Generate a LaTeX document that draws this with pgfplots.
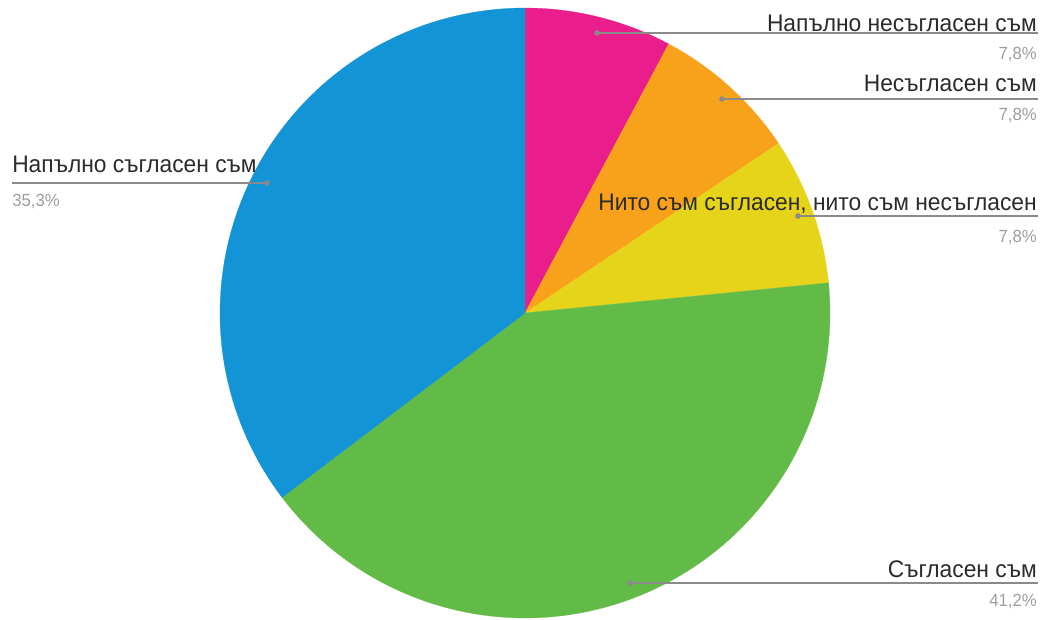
\documentclass[border=0pt]{standalone}
\usepackage{fontspec}
\setmainfont{Liberation Sans}[FakeStretch=0.95]
\usepackage{pgfplots}
\pgfplotsset{compat=1.18}
\definecolor{cA}{HTML}{E91E8C}
\definecolor{cB}{HTML}{F8A11B}
\definecolor{cC}{HTML}{E6D41A}
\definecolor{cD}{HTML}{63BB47}
\definecolor{cE}{HTML}{1394D6}
\definecolor{txt}{HTML}{2B2B2B}
\definecolor{pct}{HTML}{9E9E9E}
\definecolor{ldr}{HTML}{8A8A8A}
% values (percent), clockwise from the top
\def\vA{7.8}\def\vB{7.8}\def\vC{7.8}\def\vD{41.2}\def\vE{35.3}
\pgfmathsetmacro\tot{\vA+\vB+\vC+\vD+\vE}
\pgfmathsetmacro\aA{90}
\pgfmathsetmacro\aB{\aA-360*\vA/\tot}
\pgfmathsetmacro\aC{\aB-360*\vB/\tot}
\pgfmathsetmacro\aD{\aC-360*\vC/\tot}
\pgfmathsetmacro\aE{\aD-360*\vD/\tot}
\pgfmathsetmacro\aF{\aE-360*\vE/\tot}
\newcommand\lbl{\fontsize{18}{20}\selectfont\color{txt}}
\newcommand\pc{\fontsize{13.2}{14}\selectfont\color{pct}}
\begin{document}%
\begin{tikzpicture}
\begin{axis}[x=0.75pt,y=0.75pt,xmin=0,xmax=1046,ymin=0,ymax=619,
  axis lines=none,xtick=\empty,ytick=\empty,clip=false]
\coordinate (BL) at (axis cs:0,0);
\coordinate (TR) at (axis cs:1046,619);
\addplot[fill=cA,draw=cA,line width=0.2pt,domain=\aB:\aA,samples=60] ({525+305*cos(x)},{306+305*sin(x)}) -- (axis cs:525,306) -- cycle;
\addplot[fill=cB,draw=cB,line width=0.2pt,domain=\aC:\aB,samples=60] ({525+305*cos(x)},{306+305*sin(x)}) -- (axis cs:525,306) -- cycle;
\addplot[fill=cC,draw=cC,line width=0.2pt,domain=\aD:\aC,samples=60] ({525+305*cos(x)},{306+305*sin(x)}) -- (axis cs:525,306) -- cycle;
\addplot[fill=cD,draw=cD,line width=0.2pt,domain=\aE:\aD,samples=120] ({525+305*cos(x)},{306+305*sin(x)}) -- (axis cs:525,306) -- cycle;
\addplot[fill=cE,draw=cE,line width=0.2pt,domain=\aF:\aE,samples=120] ({525+305*cos(x)},{306+305*sin(x)}) -- (axis cs:525,306) -- cycle;
% leader lines
\addplot[ldr,line width=0.9pt,mark=*,mark size=1.6pt,mark repeat=2,mark phase=1] coordinates {(597,586) (1038,586)};
\addplot[ldr,line width=0.9pt,mark=*,mark size=1.6pt,mark repeat=2,mark phase=1] coordinates {(722,520) (1038,520)};
\addplot[ldr,line width=0.9pt,mark=*,mark size=1.6pt,mark repeat=2,mark phase=1] coordinates {(798,403) (1038,403)};
\addplot[ldr,line width=0.9pt,mark=*,mark size=1.6pt,mark repeat=2,mark phase=1] coordinates {(630,36) (1038,36)};
\addplot[ldr,line width=0.9pt,mark=*,mark size=1.6pt,mark repeat=2,mark phase=2] coordinates {(12,436) (267,436)};
% labels
\node[anchor=base east,inner sep=0] at (axis cs:1037,587) {\lbl Напълно несъгласен съм};
\node[anchor=base east,inner sep=0] at (axis cs:1037,559) {\pc 7,8\%};
\node[anchor=base east,inner sep=0] at (axis cs:1037,527) {\lbl Несъгласен съм};
\node[anchor=base east,inner sep=0] at (axis cs:1037,498) {\pc 7,8\%};
\node[anchor=base east,inner sep=0] at (axis cs:1037,409) {\lbl Нито съм съгласен, нито съм несъгласен};
\node[anchor=base east,inner sep=0] at (axis cs:1037,377) {\pc 7,8\%};
\node[anchor=base east,inner sep=0] at (axis cs:1037,42) {\lbl Съгласен съм};
\node[anchor=base east,inner sep=0] at (axis cs:1037,13) {\pc 41,2\%};
\node[anchor=base west,inner sep=0] at (axis cs:12,446) {\lbl Напълно съгласен съм};
\node[anchor=base west,inner sep=0] at (axis cs:12,412) {\pc 35,3\%};
\end{axis}
\pgfresetboundingbox
\useasboundingbox (BL) rectangle (TR);
\end{tikzpicture}%
\end{document}
